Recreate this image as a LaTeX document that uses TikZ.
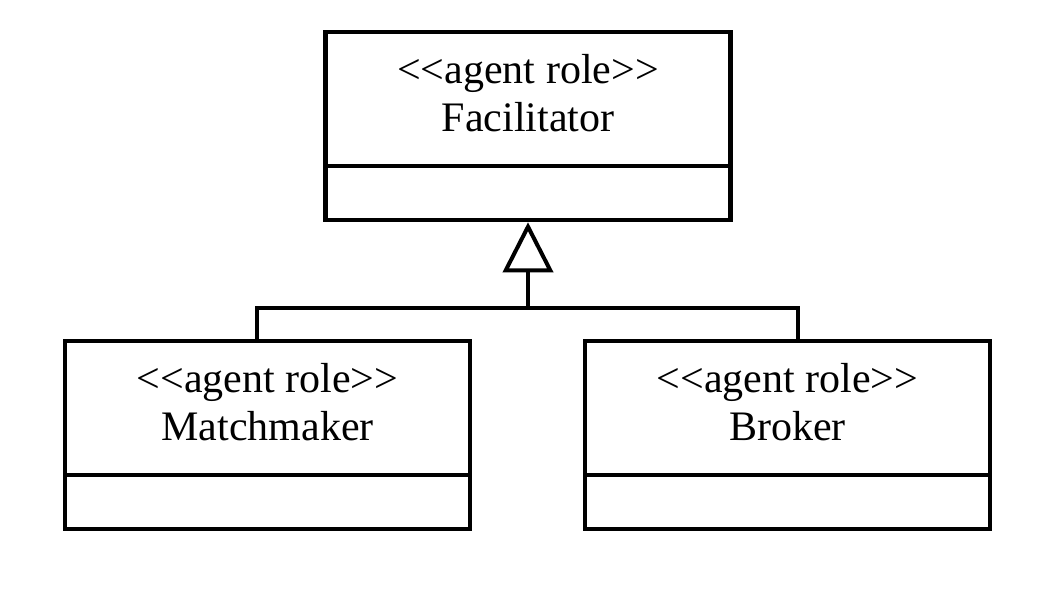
\documentclass[tikz,border=0pt]{standalone}
\usepackage{fontspec}
\setmainfont{Liberation Serif}
\usetikzlibrary{positioning,arrows.meta}

\newcommand{\stereo}[1]{<{}<#1>{}>}
\tikzset{
  rolebox/.style={draw, line width=4.5pt, minimum width=405pt, minimum height=188pt, inner sep=0pt},
  rolehead/.style={draw, line width=4.5pt, minimum width=405pt, minimum height=134pt, inner sep=0pt},
  roletitle/.style={inner sep=0pt, align=center, font=\fontsize{42pt}{48.5pt}\selectfont},
  link/.style={line width=4pt},
  isa/.style={link, -{Triangle[open, length=50pt, width=50pt, line width=4pt]}}
}

\begin{document}
\begin{tikzpicture}[x=1pt,y=-1pt]
\useasboundingbox (0,0) rectangle (1051,606);
% superclass
\node[rolebox] (fac) at (528,126) {};
\node[rolehead, anchor=north] (facHead) at (fac.north) {};
\node[roletitle] (facTitle) at ([yshift=6pt]facHead.center) {\stereo{agent role}\\Facilitator};
% subclasses
\node[rolebox] (match) at (267.5,435) {};
\node[rolehead, anchor=north] (matchHead) at (match.north) {};
\node[roletitle] (matchTitle) at ([yshift=6pt]matchHead.center) {\stereo{agent role}\\Matchmaker};
\node[rolebox] (broker) at (787.5,435) {};
\node[rolehead, anchor=north] (brokerHead) at (broker.north) {};
\node[roletitle] (brokerTitle) at ([yshift=6pt]brokerHead.center) {\stereo{agent role}\\Broker};
% generalisation
\coordinate (bus) at (528,308);
\draw[link] ([xshift=-10.5pt]match.north) |- (bus) -| ([xshift=10.5pt]broker.north);
\draw[isa] (bus) -- (fac.south);
\end{tikzpicture}
\end{document}
